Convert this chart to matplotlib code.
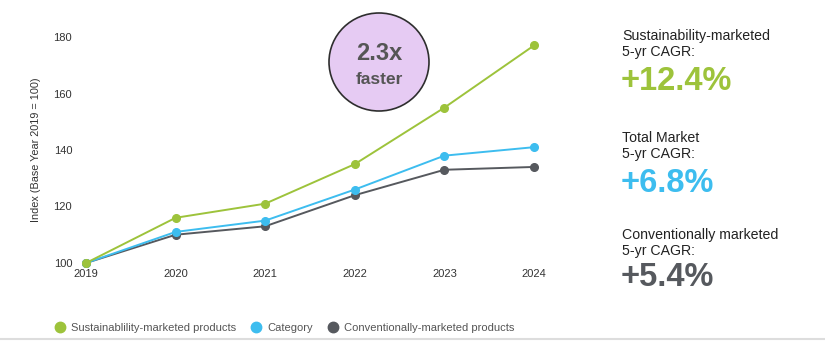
import numpy as np
import matplotlib.pyplot as plt
from matplotlib.patches import Ellipse
from matplotlib.lines import Line2D

plt.rcParams['font.family'] = ['Liberation Sans', 'DejaVu Sans']

years = [2019, 2020, 2021, 2022, 2023, 2024]
sustainable = [100, 116, 121, 135, 155, 177]
category = [100, 111, 115, 126, 138, 141]
conventional = [100, 110, 113, 124, 133, 134]

series_names = ['Sustainablility-marketed products', 'Category',
                'Conventionally-marketed products']
cagr_titles = ['Sustainability-marketed\n5-yr CAGR:', 'Total Market\n5-yr CAGR:',
               'Conventionally marketed\n5-yr CAGR:']
cagr_values = ['+12.4%', '+6.8%', '+5.4%']
speedup = '2.3x'

green = '#9dc33b'
blue = '#3dbdef'
grey = '#56595e'
text_grey = '#555555'

W, H = 825, 341
fig = plt.figure(figsize=(W / 100, H / 100), dpi=100)
ax = fig.add_axes([86 / W, 1 - 263 / H, (534 - 86) / W, (263 - 37) / H])

# conventional first so the others sit on top
for vals, col in [(conventional, grey), (category, blue), (sustainable, green)]:
    ax.plot(years, vals, color=col, lw=1.4, marker='o', ms=5.5,
            solid_capstyle='round', clip_on=False)

ax.set_xlim(2019, 2024)
ax.set_ylim(100, 180)
ax.set_xticks(years)
ax.set_yticks([100, 120, 140, 160, 180])
ax.tick_params(axis='both', length=0, labelsize=8, colors='#333333')
ax.tick_params(axis='y', pad=10)
ax.tick_params(axis='x', pad=4)
for s in ax.spines.values():
    s.set_visible(False)
ax.set_ylabel('Index (Base Year 2019 = 100)', fontsize=7.8, color='#333333',
              labelpad=9)

# bubble with the growth multiple
fig.add_artist(Ellipse((379 / W, 1 - 62 / H), 100 / W, 98 / H,
                       transform=fig.transFigure, facecolor='#e6cbf3',
                       edgecolor='#2e2e2e', lw=1.2))
fig.text(379 / W, 1 - 53 / H, speedup, ha='center', va='center',
         fontsize=17, fontweight='bold', color=text_grey)
fig.text(379 / W, 1 - 79 / H, 'faster', ha='center', va='center',
         fontsize=12.5, fontweight='bold', color=text_grey)

# CAGR call-outs on the right
title_y = [44, 146, 243]
value_y = [81, 183, 278]
for t, v, ty, vy, col in zip(cagr_titles, cagr_values, title_y, value_y,
                             [green, blue, grey]):
    fig.text(622 / W, 1 - ty / H, t, ha='left', va='center', fontsize=10.2,
             color='#222222', linespacing=1.15)
    fig.text(621 / W, 1 - vy / H, v, ha='left', va='center', fontsize=23.5,
             fontweight='bold', color=col)

handles = [Line2D([], [], ls='none', marker='o', ms=7.5, color=c)
           for c in [green, blue, grey]]
fig.legend(handles, series_names, loc='center', ncol=3, frameon=False,
           bbox_to_anchor=(284 / W, 1 - 328 / H), fontsize=8,
           labelcolor=text_grey, handletextpad=0.5, columnspacing=1.3,
           handlelength=1.0)

fig.add_artist(Line2D([0, 1], [1 - 339 / H] * 2, transform=fig.transFigure,
                      color='#dddddd', lw=1.5))

fig.savefig('out.png', dpi=100, facecolor='white')
